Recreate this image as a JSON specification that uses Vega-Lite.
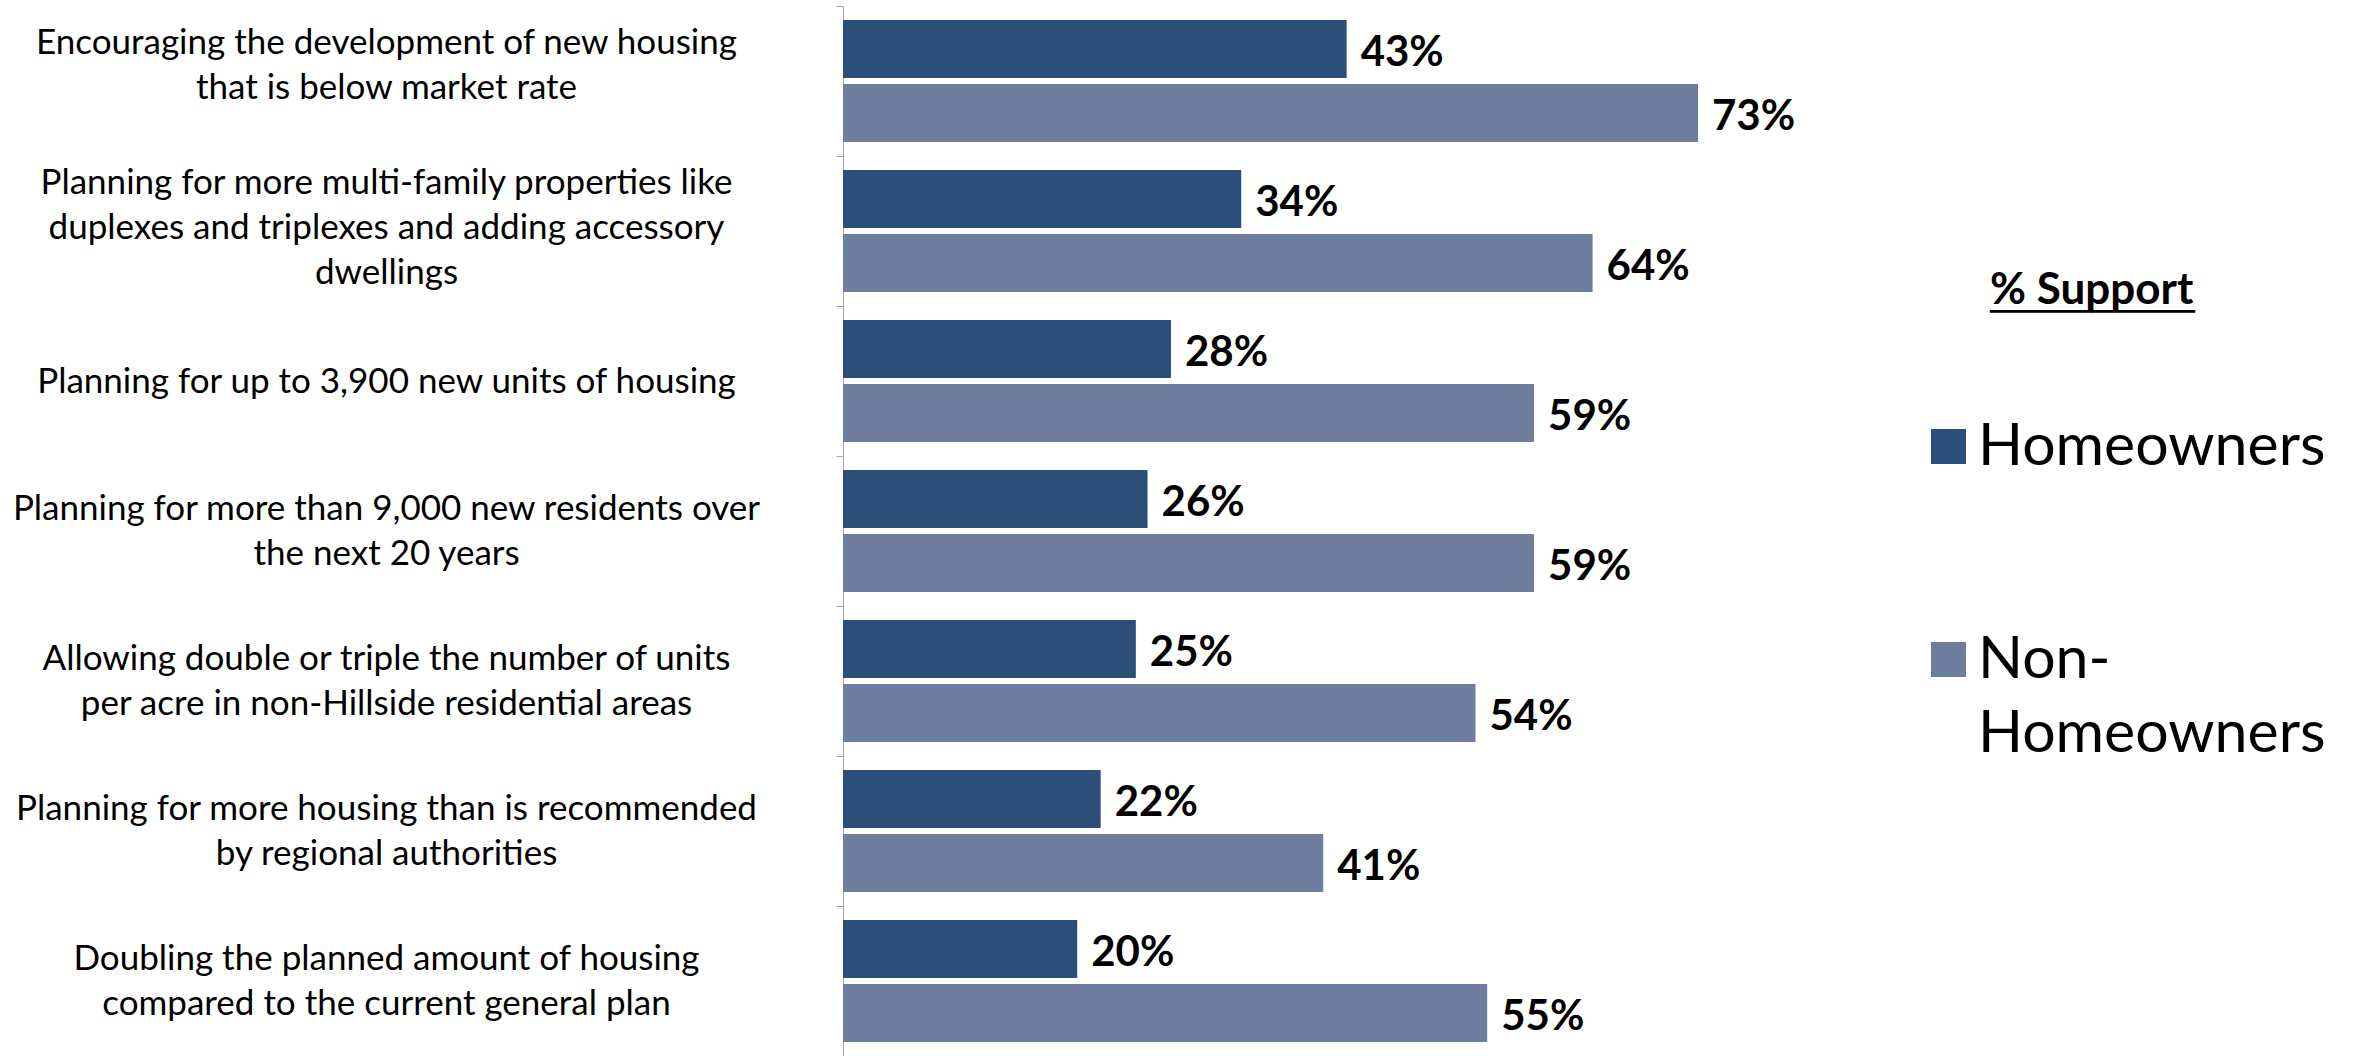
{
  "$schema": "https://vega.github.io/schema/vega-lite/v6.json",
  "width": 937,
  "height": 1050,
  "autosize": {"type": "none"},
  "padding": {"left": 843, "top": 6, "right": 576, "bottom": 0},
  "background": "white",
  "title": {
    "text": "% Support",
    "subtitle": "──────────",
    "orient": "top",
    "anchor": "start",
    "frame": "group",
    "offset": 0,
    "dx": 1147,
    "dy": 341,
    "font": "Lato",
    "fontSize": 44,
    "fontWeight": "bold",
    "color": "#000000",
    "subtitleFont": "DejaVu Sans",
    "subtitleFontSize": 34,
    "subtitleFontWeight": "bold",
    "subtitleColor": "#000000",
    "subtitlePadding": -17
  },
  "config": {
    "view": {"stroke": null},
    "style": {"guide-label": {"lineHeight": 74}}
  },
  "data": {
    "values": [
      {"item": "Encouraging the development of new housing|that is below market rate", "group": "Homeowners", "pct": 43},
      {"item": "Encouraging the development of new housing|that is below market rate", "group": "Non-Homeowners", "pct": 73},
      {"item": "Planning for more multi-family properties like|duplexes and triplexes and adding accessory|dwellings", "group": "Homeowners", "pct": 34},
      {"item": "Planning for more multi-family properties like|duplexes and triplexes and adding accessory|dwellings", "group": "Non-Homeowners", "pct": 64},
      {"item": "Planning for up to 3,900 new units of housing", "group": "Homeowners", "pct": 28},
      {"item": "Planning for up to 3,900 new units of housing", "group": "Non-Homeowners", "pct": 59},
      {"item": "Planning for more than 9,000 new residents over|the next 20 years", "group": "Homeowners", "pct": 26},
      {"item": "Planning for more than 9,000 new residents over|the next 20 years", "group": "Non-Homeowners", "pct": 59},
      {"item": "Allowing double or triple the number of units|per acre in non-Hillside residential areas", "group": "Homeowners", "pct": 25},
      {"item": "Allowing double or triple the number of units|per acre in non-Hillside residential areas", "group": "Non-Homeowners", "pct": 54},
      {"item": "Planning for more housing than is recommended|by regional authorities", "group": "Homeowners", "pct": 22},
      {"item": "Planning for more housing than is recommended|by regional authorities", "group": "Non-Homeowners", "pct": 41},
      {"item": "Doubling the planned amount of housing|compared to the current general plan", "group": "Homeowners", "pct": 20},
      {"item": "Doubling the planned amount of housing|compared to the current general plan", "group": "Non-Homeowners", "pct": 55}
    ]
  },
  "encoding": {
    "y": {
      "field": "item",
      "type": "nominal",
      "sort": null,
      "scale": {"paddingInner": 0, "paddingOuter": 0},
      "axis": {
        "title": null,
        "tickBand": "extent",
        "labelExpr": "split(datum.label, '|')",
        "labelAlign": "center",
        "labelBaseline": "middle",
        "labelPadding": 450,
        "labelOffset": {
          "condition": [
            {"test": "indexof('' + datum.value, 'Encouraging') == 0", "value": -39},
            {"test": "indexof('' + datum.value, 'dwellings') >= 0", "value": -49},
            {"test": "indexof('' + datum.value, '|') < 0", "value": 0}
          ],
          "value": -23
        },
        "tickSize": 7,
        "domainColor": "#A6A6A6",
        "tickColor": "#A6A6A6",
        "labelFont": "Lato",
        "labelFontSize": 35,
        "labelLineHeight": 45,
        "labelColor": "#000000",
        "labelLimit": 0
      }
    },
    "yOffset": {
      "field": "group",
      "type": "nominal",
      "sort": ["Homeowners", "Non-Homeowners"],
      "scale": {"paddingInner": 0.094, "paddingOuter": 0.22}
    },
    "x": {
      "field": "pct",
      "type": "quantitative",
      "scale": {"domain": [0, 80]},
      "axis": null
    }
  },
  "layer": [
    {
      "mark": {"type": "bar"},
      "encoding": {
        "color": {
          "field": "group",
          "type": "nominal",
          "sort": ["Homeowners", "Non-Homeowners"],
          "scale": {"domain": ["Homeowners", "Non-Homeowners"], "range": ["#2B4F78", "#6E7C9E"]},
          "legend": {
            "orient": "none",
            "legendX": 1076,
            "legendY": 411,
            "padding": 0,
            "title": null,
            "labelExpr": "datum.label == 'Non-Homeowners' ? ['Non-', 'Homeowners'] : datum.label",
            "labelFont": "Lato",
            "labelFontSize": 59,
            "labelColor": "#000000",
            "labelLimit": 0,
            "labelOffset": 0,
            "symbolType": "square",
            "symbolSize": 1225,
            "symbolStrokeWidth": 0,
            "rowPadding": 153
          }
        }
      }
    },
    {
      "transform": [{"calculate": "datum.pct + '%'", "as": "pctLabel"}],
      "mark": {
        "type": "text",
        "align": "left",
        "baseline": "middle",
        "dx": 14,
        "dy": 4,
        "font": "Lato",
        "fontSize": 42,
        "fontWeight": "bold",
        "color": "#000000"
      },
      "encoding": {
        "text": {"field": "pctLabel", "type": "nominal"}
      }
    }
  ]
}
